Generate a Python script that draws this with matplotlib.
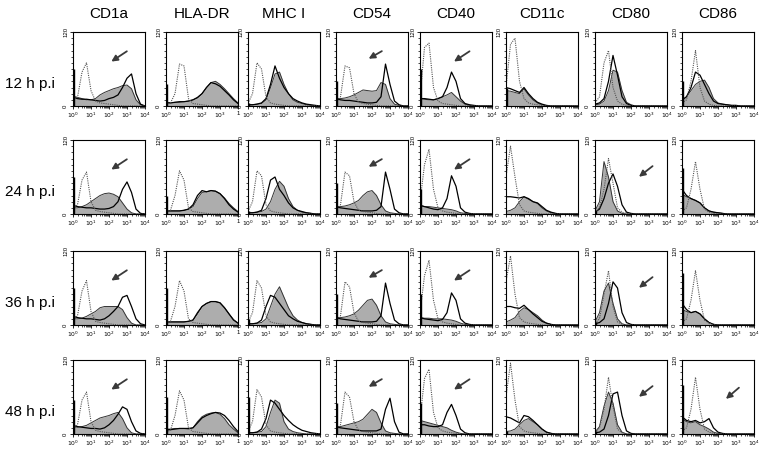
import numpy as np
import matplotlib.pyplot as plt
from matplotlib.ticker import FixedLocator, MultipleLocator, NullFormatter

plt.rcParams['font.family'] = ['Liberation Sans', 'DejaVu Sans']

markers = ['CD1a', 'HLA-DR', 'MHC I', 'CD54', 'CD40', 'CD11c', 'CD80', 'CD86']
times = ['12 h p.i', '24 h p.i', '36 h p.i', '48 h p.i']

# fluorescence channel (log10), 0 .. 4 in quarter decades
log_fl = [0, 0.25, 0.5, 0.75, 1, 1.25, 1.5, 1.75, 2, 2.25, 2.5, 2.75, 3, 3.25, 3.5, 3.75, 4]
x_labels = ['$10^0$', '$10^1$', '$10^2$', '$10^3$', '$10^4$']
# the HLA-DR panels show a clipped last label in the original
x_labels_hla = ['$10^0$', '$10^1$', '$10^2$', '$10^3$', '1']

# ---- 12 h ----
iso_12h = [
    [10, 14, 55, 70, 25, 8, 5, 4, 3, 2, 1, 0, 0, 0, 0, 0, 0],
    [4, 5, 20, 68, 65, 12, 4, 3, 2, 1, 0, 0, 0, 0, 0, 0, 0],
    [4, 20, 70, 60, 15, 5, 3, 2, 1, 0, 0, 0, 0, 0, 0, 0, 0],
    [6, 15, 65, 62, 20, 6, 4, 3, 2, 1, 0, 0, 0, 0, 0, 0, 0],
    [15, 95, 102, 30, 8, 4, 3, 2, 1, 0, 0, 0, 0, 0, 0, 0, 0],
    [30, 100, 110, 40, 12, 5, 3, 2, 1, 0, 0, 0, 0, 0, 0, 0, 0],
    [5, 15, 70, 90, 30, 8, 3, 1, 0, 0, 0, 0, 0, 0, 0, 0, 0],
    [5, 10, 40, 90, 30, 8, 3, 1, 0, 0, 0, 0, 0, 0, 0, 0, 0],
]
open_12h = [
    [14, 12, 11, 11, 10, 9, 8, 9, 12, 14, 18, 30, 45, 52, 20, 3, 0],
    [6, 5, 6, 7, 7, 8, 10, 14, 20, 30, 38, 36, 32, 25, 18, 10, 4],
    [2, 2, 3, 5, 12, 35, 65, 45, 30, 20, 12, 8, 5, 3, 2, 1, 0],
    [12, 10, 9, 9, 8, 7, 6, 5, 5, 6, 15, 68, 35, 8, 2, 0, 0],
    [12, 12, 11, 10, 12, 15, 30, 55, 40, 12, 4, 2, 1, 0, 0, 0, 0],
    [30, 28, 25, 22, 30, 20, 12, 6, 3, 1, 0, 0, 0, 0, 0, 0, 0],
    [3, 5, 12, 40, 82, 50, 15, 4, 1, 0, 0, 0, 0, 0, 0, 0, 0],
    [10, 15, 30, 55, 50, 35, 20, 8, 4, 3, 2, 1, 1, 0, 0, 0, 0],
]
fill_12h = [
    [16, 14, 12, 10, 10, 12, 18, 22, 25, 28, 30, 33, 34, 28, 10, 2, 0],
    [5, 5, 6, 6, 7, 8, 10, 13, 20, 30, 38, 40, 35, 28, 20, 12, 5],
    [2, 2, 3, 4, 10, 30, 52, 55, 35, 20, 10, 6, 4, 2, 1, 0, 0],
    [12, 12, 13, 15, 18, 22, 26, 25, 24, 25, 38, 35, 12, 3, 1, 0, 0],
    [12, 11, 10, 10, 12, 15, 18, 22, 15, 8, 3, 1, 0, 0, 0, 0, 0],
    [25, 24, 22, 20, 28, 18, 10, 5, 2, 0, 0, 0, 0, 0, 0, 0, 0],
    [2, 3, 8, 25, 58, 55, 25, 6, 2, 0, 0, 0, 0, 0, 0, 0, 0],
    [8, 15, 25, 35, 40, 42, 30, 12, 5, 3, 2, 1, 1, 0, 0, 0, 0],
]
spike_12h = [60, 35, 5, 40, 60, 30, 0, 40]

# ---- 24 h ----
iso_24h = [
    [8, 15, 55, 68, 20, 6, 4, 3, 2, 1, 0, 0, 0, 0, 0, 0, 0],
    [4, 6, 30, 70, 55, 10, 4, 3, 2, 1, 0, 0, 0, 0, 0, 0, 0],
    [4, 20, 70, 62, 15, 5, 3, 2, 1, 0, 0, 0, 0, 0, 0, 0, 0],
    [6, 15, 68, 62, 20, 6, 4, 3, 2, 1, 0, 0, 0, 0, 0, 0, 0],
    [20, 80, 105, 40, 10, 5, 3, 2, 1, 0, 0, 0, 0, 0, 0, 0, 0],
    [60, 110, 60, 15, 5, 3, 2, 1, 0, 0, 0, 0, 0, 0, 0, 0, 0],
    [3, 10, 40, 90, 50, 10, 3, 1, 0, 0, 0, 0, 0, 0, 0, 0, 0],
    [5, 10, 40, 85, 40, 8, 3, 1, 0, 0, 0, 0, 0, 0, 0, 0, 0],
]
open_24h = [
    [14, 12, 11, 10, 10, 9, 8, 8, 9, 12, 20, 40, 52, 35, 8, 1, 0],
    [5, 5, 5, 5, 6, 8, 15, 30, 38, 36, 38, 37, 33, 25, 15, 8, 3],
    [2, 2, 3, 6, 25, 55, 60, 40, 30, 18, 10, 6, 4, 2, 1, 0, 0],
    [12, 10, 9, 8, 7, 6, 5, 5, 5, 6, 12, 68, 40, 8, 2, 0, 0],
    [14, 12, 10, 8, 7, 10, 25, 62, 45, 10, 3, 1, 0, 0, 0, 0, 0],
    [28, 28, 27, 26, 28, 25, 20, 18, 12, 6, 3, 1, 0, 0, 0, 0, 0],
    [3, 8, 25, 50, 65, 45, 15, 3, 1, 0, 0, 0, 0, 0, 0, 0, 0],
    [40, 30, 25, 22, 18, 10, 5, 3, 2, 1, 0, 0, 0, 0, 0, 0, 0],
]
fill_24h = [
    [10, 10, 12, 15, 20, 25, 30, 33, 34, 32, 28, 18, 8, 2, 0, 0, 0],
    [5, 5, 5, 5, 6, 8, 12, 25, 35, 36, 38, 37, 33, 26, 17, 10, 4],
    [2, 2, 3, 4, 8, 20, 40, 53, 45, 25, 12, 6, 3, 2, 1, 0, 0],
    [12, 12, 13, 15, 18, 22, 30, 36, 38, 30, 15, 5, 2, 1, 0, 0, 0],
    [14, 12, 12, 11, 10, 9, 8, 7, 5, 2, 1, 0, 0, 0, 0, 0, 0],
    [4, 6, 10, 20, 28, 24, 20, 17, 10, 5, 2, 1, 0, 0, 0, 0, 0],
    [5, 20, 85, 60, 20, 5, 1, 0, 0, 0, 0, 0, 0, 0, 0, 0, 0],
    [32, 28, 25, 22, 18, 10, 5, 3, 2, 1, 0, 0, 0, 0, 0, 0, 0],
]
spike_24h = [60, 30, 5, 50, 40, 0, 5, 75]

# ---- 36 h ----
iso_36h = [
    [8, 15, 55, 72, 22, 6, 4, 3, 2, 1, 0, 0, 0, 0, 0, 0, 0],
    [4, 6, 30, 72, 55, 10, 4, 3, 2, 1, 0, 0, 0, 0, 0, 0, 0],
    [4, 20, 72, 60, 15, 5, 3, 2, 1, 0, 0, 0, 0, 0, 0, 0, 0],
    [6, 15, 70, 62, 20, 6, 4, 3, 2, 1, 0, 0, 0, 0, 0, 0, 0],
    [20, 80, 105, 40, 10, 5, 3, 2, 1, 0, 0, 0, 0, 0, 0, 0, 0],
    [70, 112, 50, 12, 5, 3, 2, 1, 0, 0, 0, 0, 0, 0, 0, 0, 0],
    [3, 10, 50, 88, 30, 5, 1, 0, 0, 0, 0, 0, 0, 0, 0, 0, 0],
    [5, 10, 40, 88, 40, 8, 3, 1, 0, 0, 0, 0, 0, 0, 0, 0, 0],
]
open_36h = [
    [14, 12, 11, 10, 10, 9, 8, 10, 15, 22, 30, 45, 48, 30, 10, 2, 0],
    [5, 5, 5, 5, 5, 6, 8, 20, 30, 35, 38, 38, 36, 28, 18, 8, 3],
    [2, 2, 3, 8, 30, 48, 45, 35, 25, 15, 10, 6, 4, 2, 1, 0, 0],
    [12, 10, 9, 8, 7, 6, 5, 5, 5, 6, 15, 68, 35, 8, 2, 0, 0],
    [12, 10, 9, 8, 7, 9, 20, 52, 40, 10, 3, 1, 0, 0, 0, 0, 0],
    [30, 30, 28, 27, 32, 25, 18, 12, 6, 3, 1, 0, 0, 0, 0, 0, 0],
    [2, 4, 10, 35, 70, 60, 20, 4, 1, 0, 0, 0, 0, 0, 0, 0, 0],
    [35, 25, 20, 22, 18, 10, 4, 1, 0, 0, 0, 0, 0, 0, 0, 0, 0],
]
fill_36h = [
    [10, 10, 11, 14, 18, 22, 28, 30, 30, 30, 30, 25, 12, 3, 0, 0, 0],
    [5, 5, 5, 5, 5, 6, 8, 18, 30, 35, 38, 38, 36, 28, 18, 9, 3],
    [2, 2, 3, 4, 10, 30, 50, 62, 45, 28, 15, 8, 4, 2, 1, 0, 0],
    [12, 12, 13, 15, 18, 24, 32, 40, 42, 32, 15, 5, 2, 1, 0, 0, 0],
    [12, 11, 11, 10, 10, 10, 9, 8, 6, 3, 1, 0, 0, 0, 0, 0, 0],
    [5, 8, 12, 22, 28, 25, 20, 15, 8, 3, 1, 0, 0, 0, 0, 0, 0],
    [5, 20, 55, 68, 35, 10, 2, 0, 0, 0, 0, 0, 0, 0, 0, 0, 0],
    [25, 22, 20, 22, 18, 10, 4, 1, 0, 0, 0, 0, 0, 0, 0, 0, 0],
]
spike_36h = [60, 60, 10, 50, 50, 0, 5, 85]

# ---- 48 h ----
iso_48h = [
    [8, 15, 55, 68, 20, 6, 4, 3, 2, 1, 0, 0, 0, 0, 0, 0, 0],
    [4, 6, 30, 70, 55, 10, 4, 3, 2, 1, 0, 0, 0, 0, 0, 0, 0],
    [4, 20, 72, 60, 15, 5, 3, 2, 1, 0, 0, 0, 0, 0, 0, 0, 0],
    [6, 15, 68, 60, 20, 6, 4, 3, 2, 1, 0, 0, 0, 0, 0, 0, 0],
    [25, 90, 105, 35, 10, 5, 3, 2, 1, 0, 0, 0, 0, 0, 0, 0, 0],
    [60, 115, 55, 12, 5, 3, 2, 1, 0, 0, 0, 0, 0, 0, 0, 0, 0],
    [3, 10, 40, 92, 45, 8, 2, 0, 0, 0, 0, 0, 0, 0, 0, 0, 0],
    [5, 10, 40, 92, 40, 8, 3, 1, 0, 0, 0, 0, 0, 0, 0, 0, 0],
]
open_48h = [
    [14, 12, 11, 10, 9, 9, 8, 10, 15, 22, 32, 44, 40, 20, 5, 1, 0],
    [7, 7, 8, 9, 9, 9, 10, 18, 26, 30, 33, 35, 34, 30, 22, 12, 4],
    [2, 2, 3, 8, 25, 55, 50, 40, 30, 22, 15, 10, 6, 4, 2, 1, 0],
    [12, 10, 9, 8, 7, 6, 5, 5, 5, 5, 8, 40, 58, 20, 3, 0, 0],
    [15, 15, 13, 12, 12, 15, 35, 48, 30, 8, 2, 0, 0, 0, 0, 0, 0],
    [28, 26, 22, 18, 30, 28, 22, 15, 8, 3, 1, 0, 0, 0, 0, 0, 0],
    [2, 3, 8, 30, 65, 68, 30, 5, 1, 0, 0, 0, 0, 0, 0, 0, 0],
    [28, 22, 20, 22, 18, 20, 25, 10, 3, 1, 0, 0, 0, 0, 0, 0, 0],
]
fill_48h = [
    [12, 11, 12, 14, 18, 22, 26, 28, 30, 33, 35, 25, 10, 2, 0, 0, 0],
    [8, 8, 9, 9, 9, 8, 10, 20, 28, 32, 34, 35, 32, 25, 15, 8, 2],
    [2, 2, 3, 4, 12, 35, 55, 50, 20, 8, 4, 2, 1, 0, 0, 0, 0],
    [12, 12, 14, 16, 18, 20, 24, 32, 40, 35, 18, 5, 2, 1, 0, 0, 0],
    [22, 20, 18, 16, 14, 12, 10, 6, 3, 1, 0, 0, 0, 0, 0, 0, 0],
    [4, 5, 8, 15, 22, 25, 20, 15, 8, 3, 1, 0, 0, 0, 0, 0, 0],
    [3, 12, 45, 68, 50, 15, 3, 0, 0, 0, 0, 0, 0, 0, 0, 0, 0],
    [25, 20, 18, 20, 15, 12, 8, 3, 1, 0, 0, 0, 0, 0, 0, 0, 0],
]
spike_48h = [55, 60, 60, 50, 50, 5, 5, 80]

# panels with an arrow (1 = arrow)
arrows = [
    [1, 0, 0, 1, 1, 0, 0, 0],
    [1, 0, 0, 1, 1, 0, 1, 0],
    [1, 0, 0, 1, 1, 0, 1, 0],
    [1, 0, 0, 1, 1, 0, 1, 1],
]

iso_all = [iso_12h, iso_24h, iso_36h, iso_48h]
open_all = [open_12h, open_24h, open_36h, open_48h]
fill_all = [fill_12h, fill_24h, fill_36h, fill_48h]
spike_all = [spike_12h, spike_24h, spike_36h, spike_48h]

W, H = 780, 458
col_left = [73, 166, 248, 336, 420, 506, 595, 682]
row_top = [32, 140, 251, 360]
pw, ph = 72, 74

# arrow head / tail in axes fraction, per column
arrow_pos = {0: ((0.50, 0.58), (0.78, 0.76)),
             3: ((0.42, 0.62), (0.67, 0.76)),
             4: ((0.44, 0.58), (0.72, 0.76)),
             6: ((0.58, 0.48), (0.83, 0.67)),
             7: ((0.58, 0.45), (0.82, 0.65))}

fig = plt.figure(figsize=(W / 100, H / 100), dpi=100)
x = 10 ** np.array(log_fl, dtype=float)

for r in range(4):
    for c in range(8):
        ax = fig.add_axes([col_left[c] / W, 1 - (row_top[r] + ph) / H, pw / W, ph / H])
        f = fill_all[r][c]
        ax.fill_between(x, f, color='#adadad', lw=0)
        ax.plot(x, f, color='#333333', lw=0.7)
        ax.plot(x, open_all[r][c], color='black', lw=0.9)
        ax.plot(x, iso_all[r][c], color='#555555', lw=0.8, ls=(0, (1, 1)))
        if spike_all[r][c] > 0:
            ax.vlines(1.12, 0, spike_all[r][c], color='black', lw=1.0)

        if arrows[r][c]:
            head, tail = arrow_pos[c]
            ax.annotate('', xy=head, xytext=tail, xycoords='axes fraction',
                        arrowprops=dict(arrowstyle='-|>', color='#3a3a3a',
                                        lw=1.3, mutation_scale=9))

        ax.set_xscale('log')
        ax.set_xlim(1, 1e4)
        ax.set_ylim(0, 120)
        ax.set_xticks([1, 10, 100, 1000, 10000])
        ax.set_xticklabels(x_labels_hla if c == 1 else x_labels)
        ax.xaxis.set_minor_locator(FixedLocator(
            [m * 10 ** d for d in range(4) for m in range(2, 10)]))
        ax.xaxis.set_minor_formatter(NullFormatter())
        ax.set_yticks([0, 120])
        ax.set_yticklabels(['0', '120'], rotation=90, va='center')
        ax.yaxis.set_minor_locator(MultipleLocator(10))
        ax.tick_params(which='major', length=2.5, width=0.6, labelsize=4.3, pad=1)
        ax.tick_params(which='minor', length=1.5, width=0.5)
        for s in ax.spines.values():
            s.set_linewidth(0.8)

        if r == 0:
            fig.text((col_left[c] + pw / 2) / W, 1 - 14 / H, markers[c],
                     ha='center', va='center', fontsize=11)
    fig.text(5 / W, 1 - (row_top[r] + 52) / H, times[r],
             ha='left', va='center', fontsize=11)

fig.savefig('out.png', dpi=100)
